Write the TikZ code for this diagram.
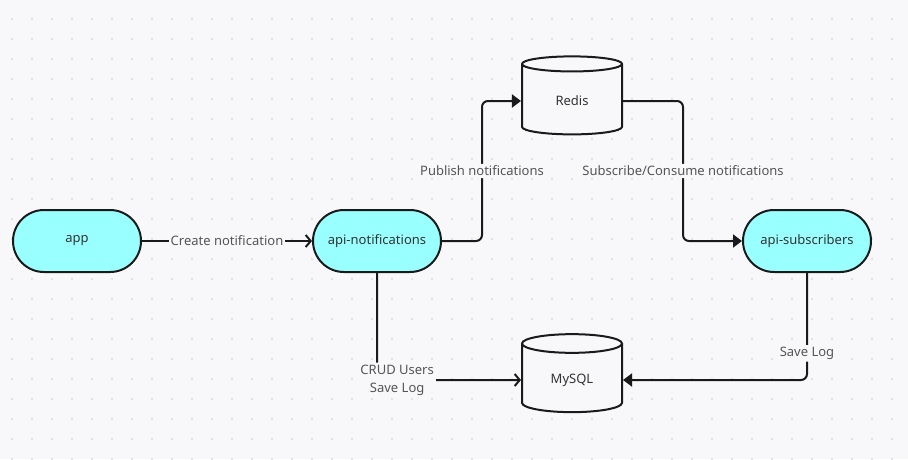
\documentclass[tikz,border=0pt]{standalone}
\usepackage{fontspec}
\setmainfont{Noto Sans}
\usetikzlibrary{arrows.meta,
                positioning,
                shapes.geometric}
\definecolor{canvas}{RGB}{248,248,250}
\definecolor{griddot}{RGB}{220,220,224}
\definecolor{svcfill}{RGB}{153,255,255}
\definecolor{inkline}{RGB}{26,26,26}
\definecolor{nodetext}{RGB}{51,51,51}
\definecolor{lbltext}{RGB}{85,85,85}
\tikzset{
        base/.style={draw=inkline, line width=2pt, align=center,
                     text=nodetext, font=\fontsize{13}{18}\selectfont},
        svc/.style={base, rectangle, rounded corners=31pt, fill=svcfill,
                    minimum width=128pt, minimum height=62pt},
        store/.style={base, cylinder, shape border rotate=90, aspect=0.38,
                      fill=canvas, minimum width=100pt, minimum height=78pt},
        lbl/.style={fill=canvas, text=lbltext, inner sep=2pt, align=center,
                    font=\fontsize{13}{18}\selectfont},
        openarrow/.style={-{Straight Barb[length=5pt,width=12pt]},
                          line width=2pt, draw=inkline},
        fillarrow/.style={-{Triangle[length=9pt,width=13pt]},
                          line width=2pt, draw=inkline},
}

\begin{document}
\begin{tikzpicture}[x=1pt, y=-1pt]
        % canvas with dot grid
        \useasboundingbox[fill=canvas] (0,0) rectangle (908,459);
        \foreach \gx in {12,32,...,900}
            \foreach \gy in {19,39,...,459}
                \fill[griddot] (\gx,\gy) circle (1.2pt);

        \node[svc] (app) at (77,241) {app};
        \node[svc, right = 170pt of app] (notif) {api-notifications};
        \node[svc, right = 300pt of notif] (subs) {api-subscribers};
        \node[store] (redis) at (572,101) {Redis};
        \node[store] (mysql) at (572,380) {MySQL};

        \draw[openarrow] (app) -- node[lbl] {Create notification} (notif);
        \draw[fillarrow, rounded corners=6pt] (notif.east) -- ++(40,0)
             |- node[lbl, pos=0.25] {Publish notifications} (redis.west);
        \draw[fillarrow, rounded corners=6pt] (redis.east) -- ++(60,0)
             |- node[lbl, pos=0.25] {Subscribe/Consume notifications} (subs.west);
        \draw[openarrow, rounded corners=6pt] (notif.south)
             |- node[lbl, pos=0.57] {CRUD Users\\Save Log} (mysql.west);
        \draw[fillarrow, rounded corners=6pt] (subs.south)
             |- node[lbl, pos=0.376] {Save Log} (mysql.east);
\end{tikzpicture}
\end{document}
